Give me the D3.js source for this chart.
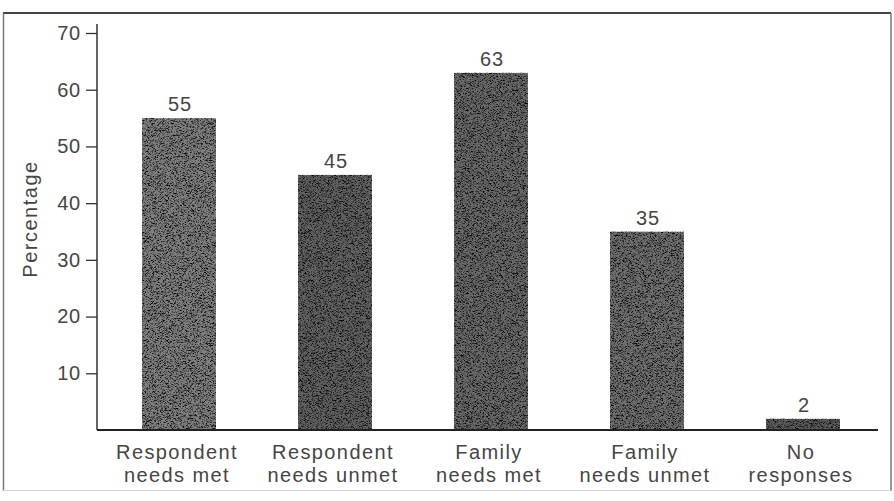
<!DOCTYPE html>
<html>
<head>
<meta charset="utf-8">
<script src="https://cdn.jsdelivr.net/npm/d3@7"></script>
<style>
  html, body { margin: 0; padding: 0; background: #fff; }
  svg { display: block; }
  text { font-family: "Liberation Sans", Arial, sans-serif; fill: #454545; }
</style>
</head>
<body>
<svg id="chart" width="894" height="501"></svg>
<script>
// ---- data ----
const categories = [
  ["Respondent", "needs met"],
  ["Respondent", "needs unmet"],
  ["Family", "needs met"],
  ["Family", "needs unmet"],
  ["No", "responses"]
];
const values = [55, 45, 63, 35, 2];
const yTicks = [10, 20, 30, 40, 50, 60, 70];
const yTitle = "Percentage";

// ---- styles ----
const barTones = ["#808080", "#626262", "#6a6a6a", "#707070", "#5c5c5c"];

const svg = d3.select("#chart");

const x = d3.scaleBand()
  .domain(d3.range(values.length))
  .range([101, 881])
  .paddingInner(0.526)
  .paddingOuter(0.263);

const y = d3.scaleLinear().domain([0, 70]).range([430, 33]);

// grain filter
const defs = svg.append("defs");
const f = defs.append("filter").attr("id", "grain")
  .attr("x", 0).attr("y", 0).attr("width", 1).attr("height", 1)
  .attr("color-interpolation-filters", "sRGB");
f.append("feTurbulence").attr("type", "fractalNoise")
  .attr("baseFrequency", "0.6 1.4").attr("numOctaves", 2).attr("seed", 7).attr("result", "noise");
f.append("feColorMatrix").attr("in", "noise").attr("type", "matrix")
  .attr("values", "3.2 0 0 0 -0.75  3.2 0 0 0 -0.75  3.2 0 0 0 -0.75  0 0 0 0 1")
  .attr("result", "gray");
f.append("feBlend").attr("in", "SourceGraphic").attr("in2", "gray").attr("mode", "multiply").attr("result", "mix");
f.append("feComposite").attr("in", "mix").attr("in2", "SourceGraphic").attr("operator", "in");

// frame
svg.append("line").attr("x1", 3).attr("x2", 891).attr("y1", 13).attr("y2", 13)
  .attr("stroke", "#444").attr("stroke-width", 2);
svg.append("line").attr("x1", 3.5).attr("x2", 3.5).attr("y1", 13).attr("y2", 491)
  .attr("stroke", "#777").attr("stroke-width", 1.5);
svg.append("line").attr("x1", 891).attr("x2", 891).attr("y1", 13).attr("y2", 491)
  .attr("stroke", "#777").attr("stroke-width", 1.5);
svg.append("line").attr("x1", 3).attr("x2", 891).attr("y1", 490.5).attr("y2", 490.5)
  .attr("stroke", "#d4d4d4").attr("stroke-width", 1);

// bars
svg.append("g").selectAll("rect").data(values).join("rect")
  .attr("x", (d, i) => x(i))
  .attr("width", x.bandwidth())
  .attr("y", d => y(d))
  .attr("height", d => y(0) - y(d))
  .attr("fill", (d, i) => barTones[i])
  .attr("filter", "url(#grain)");

// value labels
svg.append("g").selectAll("text").data(values).join("text")
  .attr("x", (d, i) => x(i) + x.bandwidth() / 2 + 1)
  .attr("y", d => y(d) - 7)
  .attr("text-anchor", "middle")
  .style("font-size", "20px")
  .style("letter-spacing", "1px")
  .text(d => d);

// y axis
const yAxis = d3.axisLeft(y).tickValues(yTicks).tickSize(11).tickPadding(5);
const gy = svg.append("g").attr("transform", "translate(97,0)").call(yAxis);
gy.select(".domain").remove();
gy.selectAll(".tick line").attr("stroke", "#333").attr("stroke-width", 1.3);
gy.selectAll(".tick text")
  .style("font-size", "20px").style("letter-spacing", "0.8px")
  .attr("fill", "#454545").attr("font-family", null);
svg.append("line").attr("x1", 97).attr("x2", 97).attr("y1", 24).attr("y2", 430)
  .attr("stroke", "#333").attr("stroke-width", 1.5);

// x axis baseline
svg.append("line").attr("x1", 97).attr("x2", 878).attr("y1", y(0)).attr("y2", y(0))
  .attr("stroke", "#222").attr("stroke-width", 2);

// category labels
const cl = svg.append("g").selectAll("text").data(categories).join("text")
  .attr("text-anchor", "middle")
  .style("font-size", "20px")
  .style("letter-spacing", "1.4px");
cl.each(function (d, i) {
  const t = d3.select(this);
  d.forEach((line, k) => {
    t.append("tspan")
      .attr("x", x(i) + x.bandwidth() / 2 - 2)
      .attr("y", 459 + k * 23)
      .text(line);
  });
});

// y title
svg.append("text")
  .attr("transform", "translate(37,219) rotate(-90)")
  .attr("text-anchor", "middle")
  .style("font-size", "20px")
  .style("letter-spacing", "1.5px")
  .text(yTitle);
</script>
</body>
</html>
